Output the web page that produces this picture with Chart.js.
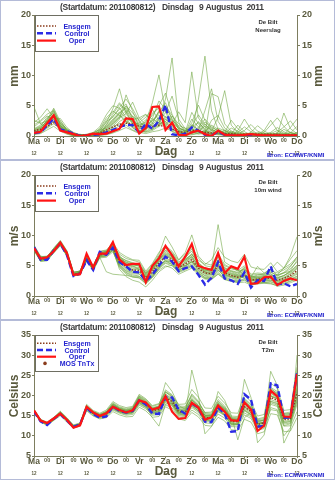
<!DOCTYPE html>
<html lang="nl">
<head>
<meta charset="utf-8">
<title>EPS pluim De Bilt</title>
<script src="https://cdn.jsdelivr.net/npm/chart.js@4/dist/chart.umd.min.js"></script>
<style>
  html, body { margin: 0; padding: 0; background: #fff; }
  canvas { display: block; }
</style>
</head>
<body>
<canvas id="neerslag" width="335" height="160"></canvas>
<canvas id="wind" width="335" height="160"></canvas>
<canvas id="temp" width="335" height="160"></canvas>
<script>
// Tijdas: uren na de start (2011080812), elke 6 uur
const uren = [0, 6, 12, 18, 24, 30, 36, 42, 48, 54, 60, 66, 72, 78, 84, 90, 96, 102, 108, 114, 120,
  126, 132, 138, 144, 150, 156, 162, 168, 174, 180, 186, 192, 198, 204, 210, 216, 222, 228, 234, 240];
const dagNamen = ['Ma', 'Di', 'Wo', 'Do', 'Vr', 'Za', 'Zo', 'Ma', 'Di', 'Wo', 'Do'];

// Neerslag (mm)
const neerslagOper = [0.5, 0.7, 2.1, 3.4, 0.9, 0.6, 0.3, 0.0, 0.1, 0.4, 0.3, 0.4, 0.8, 1.2, 2.9, 2.8, 0.4, 1.3, 4.8, 4.9, 1.0,
  2.2, 0.2, 0.1, 0.6, 0.9, 0.3, 0.0, 0.9, 0.2, 0.1, 0.1, 0.2, 0.3, 0.2, 0.1, 0.1, 0.1, 0.1, 0.1, 0.1];
const neerslagControl = [0.5, 0.6, 1.8, 2.8, 1.1, 0.8, 0.4, 0.0, 0.1, 0.2, 0.3, 0.6, 1.0, 1.5, 1.8, 1.8, 0.6, 2.0, 1.2, 2.5, 5.1,
  0.3, 0.1, 0.4, 1.4, 0.9, 0.2, 0.1, 0.7, 0.2, 0.1, 0.0, 0.1, 0.0, 0.0, 0.0, 0.0, 0.0, 0.0, 0.0, 0.0];
const neerslagGem = [0.9, 1.1, 1.6, 2.2, 1.2, 0.7, 0.3, 0.1, 0.2, 0.3, 0.5, 1.0, 1.5, 1.9, 2.1, 2.0, 1.6, 1.5, 1.6, 1.8, 1.5,
  1.2, 0.7, 0.6, 0.9, 0.8, 0.6, 0.5, 0.7, 0.4, 0.4, 0.3, 0.3, 0.3, 0.3, 0.3, 0.3, 0.3, 0.2, 0.2, 0.2];
const neerslagLeden = [
  [1.2, 1.8, 2.9, 3.9, 1.5, 0.8, 0.3, 0.1, 0.2, 0.4, 0.6, 1.4, 2.5, 3.8, 4.9, 3.2, 2.0, 1.8, 2.6, 3.5, 2.1, 1.2, 0.6, 0.4, 1.8, 1.1, 0.5, 0.3, 0.9, 0.5, 0.2, 0.1, 0.3, 0.2, 0.1, 0.2, 0.1, 0.0, 0.2, 0.1, 0.1],
  [0.6, 1.1, 2.2, 4.4, 2.0, 1.0, 0.2, 0.0, 0.1, 0.2, 0.9, 2.2, 4.5, 7.8, 3.6, 2.4, 1.3, 1.1, 2.0, 4.2, 3.0, 1.8, 0.9, 0.2, 0.6, 2.4, 1.0, 0.2, 0.4, 0.1, 0.0, 0.2, 0.0, 0.1, 0.0, 0.3, 0.2, 0.1, 0.0, 0.0, 0.1],
  [4.8, 2.0, 1.4, 2.5, 1.0, 0.6, 0.1, 0.0, 0.0, 0.3, 0.5, 0.9, 1.6, 2.8, 6.8, 4.1, 1.5, 2.4, 5.5, 10.1, 4.0, 1.6, 0.5, 0.3, 1.2, 0.6, 0.8, 0.2, 0.5, 0.3, 0.1, 0.0, 0.2, 0.4, 0.1, 0.0, 0.2, 0.1, 0.3, 0.1, 0.0],
  [0.3, 0.9, 1.9, 3.1, 2.6, 0.9, 0.4, 0.2, 0.1, 0.1, 0.3, 0.5, 1.0, 1.7, 2.5, 1.3, 0.8, 1.5, 1.0, 2.8, 6.1, 12.9, 2.3, 0.6, 2.8, 1.5, 0.7, 0.4, 0.3, 1.0, 0.4, 0.2, 0.1, 0.0, 0.1, 0.3, 0.5, 0.2, 0.1, 0.0, 0.2],
  [0.9, 0.5, 1.3, 2.0, 1.2, 0.4, 0.0, 0.0, 0.2, 0.1, 0.2, 1.8, 3.3, 4.4, 5.3, 2.7, 3.0, 3.6, 2.1, 1.5, 2.8, 1.9, 4.0, 2.2, 10.6, 3.0, 1.5, 0.8, 3.1, 7.5, 1.8, 0.6, 0.3, 0.2, 0.1, 0.2, 0.6, 1.4, 0.7, 0.3, 0.2],
  [0.4, 0.7, 2.6, 4.1, 1.8, 0.5, 0.1, 0.3, 0.0, 0.2, 0.4, 1.1, 2.0, 3.1, 4.2, 2.1, 1.0, 0.8, 1.4, 2.3, 5.0, 3.4, 1.2, 0.9, 0.4, 6.0, 13.2, 4.2, 1.1, 0.6, 2.6, 1.2, 0.4, 0.2, 0.6, 0.3, 0.1, 0.2, 0.1, 0.3, 0.1],
  [1.5, 2.4, 3.3, 2.7, 1.4, 0.7, 0.2, 0.1, 0.0, 0.0, 0.1, 0.3, 0.6, 1.2, 2.2, 3.3, 2.4, 1.2, 3.8, 4.6, 1.9, 0.7, 0.3, 0.1, 0.2, 0.4, 0.3, 7.0, 6.5, 2.0, 0.8, 0.3, 0.2, 0.5, 0.2, 0.1, 0.3, 0.2, 3.8, 1.2, 0.4],
  [0.8, 1.3, 2.0, 3.5, 2.2, 1.2, 0.6, 0.2, 0.1, 0.5, 1.1, 2.6, 3.9, 5.5, 4.0, 1.8, 0.9, 0.6, 0.9, 1.6, 3.2, 2.6, 1.7, 1.3, 0.8, 0.5, 2.0, 0.9, 0.3, 0.2, 0.1, 0.9, 2.8, 1.1, 0.3, 0.1, 0.0, 0.6, 1.5, 2.5, 1.0],
  [0.2, 0.4, 1.0, 1.6, 0.8, 0.3, 0.0, 0.0, 0.0, 0.1, 0.2, 0.6, 1.4, 2.1, 1.8, 1.0, 0.6, 0.4, 0.7, 0.9, 1.3, 0.8, 0.4, 0.2, 0.4, 0.8, 0.6, 0.3, 0.2, 0.1, 0.0, 0.1, 0.0, 0.2, 0.1, 0.0, 0.1, 0.0, 0.1, 0.2, 0.1],
  [2.2, 3.1, 4.5, 3.0, 1.7, 0.9, 0.3, 0.1, 0.3, 0.6, 1.5, 3.5, 5.0, 4.6, 3.1, 2.2, 1.6, 2.7, 1.6, 2.0, 2.4, 1.5, 1.0, 0.5, 1.6, 3.5, 1.9, 1.1, 0.6, 0.4, 0.3, 1.8, 0.7, 0.2, 0.1, 0.0, 0.2, 0.3, 0.1, 0.0, 0.0],
  [0.5, 0.8, 1.7, 2.8, 1.1, 0.5, 0.1, 0.0, 0.1, 0.0, 0.1, 0.2, 0.5, 0.9, 1.4, 0.9, 0.4, 0.9, 2.9, 5.8, 4.4, 2.1, 0.8, 0.3, 0.5, 1.0, 4.2, 7.8, 2.4, 0.8, 0.4, 0.2, 0.1, 0.0, 0.3, 0.9, 2.6, 0.9, 0.2, 1.4, 2.8],
  [1.0, 1.5, 2.4, 3.2, 1.3, 0.6, 0.2, 0.1, 0.1, 0.3, 0.7, 1.6, 2.8, 4.0, 2.9, 1.5, 1.2, 2.0, 1.2, 3.0, 2.4, 1.0, 0.7, 0.6, 0.3, 0.5, 0.9, 0.6, 0.4, 0.3, 0.6, 0.3, 0.9, 1.9, 0.8, 0.4, 0.2, 0.5, 0.3, 0.6, 0.3],
  [0.7, 1.2, 2.7, 4.6, 2.4, 1.1, 0.4, 0.1, 0.0, 0.2, 0.6, 1.9, 3.6, 5.2, 4.4, 2.6, 1.7, 1.3, 2.2, 3.9, 5.5, 2.6, 1.4, 0.8, 1.5, 2.2, 1.2, 0.6, 1.3, 0.9, 0.5, 0.2, 0.1, 0.3, 0.4, 0.2, 0.1, 0.0, 0.1, 0.2, 0.1],
  [0.3, 0.6, 1.5, 2.4, 1.6, 0.7, 0.2, 0.0, 0.1, 0.4, 1.2, 3.0, 4.1, 3.4, 2.3, 1.6, 2.2, 3.1, 4.4, 2.5, 1.7, 3.3, 2.0, 1.0, 0.7, 1.4, 2.8, 1.6, 0.8, 0.5, 1.3, 0.8, 0.3, 0.1, 0.0, 0.2, 0.4, 0.9, 0.5, 0.2, 0.1],
  [1.8, 2.6, 3.6, 4.2, 1.9, 0.8, 0.3, 0.1, 0.2, 0.2, 0.4, 0.8, 1.9, 3.0, 3.7, 5.6, 3.0, 1.9, 1.3, 2.2, 3.9, 6.6, 2.8, 1.2, 0.8, 0.3, 0.6, 1.8, 1.1, 0.4, 0.2, 0.6, 1.5, 0.7, 0.3, 0.1, 0.3, 0.2, 1.1, 0.6, 0.3],
  [0.6, 1.0, 2.0, 2.9, 2.9, 1.4, 0.5, 0.2, 0.0, 0.1, 0.3, 0.7, 1.2, 2.4, 3.0, 2.4, 1.9, 2.2, 3.4, 5.0, 7.1, 3.6, 1.5, 0.7, 3.9, 2.0, 0.9, 0.5, 0.4, 0.2, 0.1, 0.3, 0.2, 0.6, 1.7, 0.8, 0.3, 0.1, 0.2, 0.3, 0.5],
  [1.1, 1.6, 3.1, 3.7, 1.7, 0.9, 0.2, 0.0, 0.1, 0.3, 0.8, 2.4, 3.1, 4.7, 6.1, 4.5, 2.5, 1.4, 1.8, 3.2, 2.7, 1.9, 0.9, 0.4, 1.9, 0.9, 0.4, 2.6, 3.4, 1.3, 0.6, 0.3, 0.2, 0.1, 0.3, 0.5, 0.2, 0.1, 0.4, 0.2, 0.6],
  [0.4, 0.9, 2.3, 3.3, 1.4, 0.6, 0.1, 0.1, 0.2, 0.5, 1.0, 1.3, 2.3, 3.5, 2.6, 1.4, 0.8, 0.7, 1.1, 1.8, 4.8, 2.9, 1.1, 0.6, 2.2, 5.1, 2.6, 1.2, 0.5, 0.3, 0.2, 0.1, 0.4, 0.3, 0.2, 0.6, 1.8, 3.0, 1.6, 0.5, 0.2],
  [2.6, 2.1, 2.5, 3.0, 1.6, 0.7, 0.3, 0.2, 0.1, 0.2, 0.5, 1.2, 2.1, 3.2, 5.0, 3.8, 2.6, 3.5, 2.8, 2.2, 1.6, 1.1, 0.6, 0.3, 0.6, 1.1, 2.3, 1.4, 0.9, 0.6, 0.3, 0.2, 0.1, 0.2, 0.1, 0.2, 0.3, 0.1, 0.2, 0.5, 1.6],
  [0.9, 1.4, 2.5, 3.6, 2.1, 1.0, 0.4, 0.2, 0.1, 0.3, 0.6, 1.5, 2.6, 3.8, 4.6, 3.1, 1.4, 1.7, 2.5, 4.0, 3.2, 2.2, 1.3, 0.9, 1.1, 0.8, 1.6, 1.0, 0.6, 0.4, 0.8, 0.5, 0.2, 0.4, 0.2, 0.1, 0.2, 0.4, 0.3, 0.1, 0.2]
];

// Wind op 10 m (m/s)
const windOper = [7.9, 6.2, 6.4, 7.4, 8.8, 7.1, 3.5, 3.6, 7.0, 4.7, 7.0, 7.0, 8.9, 6.0, 5.1, 5.3, 5.3, 2.3, 5.0, 6.2, 8.3,
  6.7, 4.9, 6.5, 8.6, 5.0, 4.6, 4.3, 7.1, 3.8, 4.9, 4.5, 6.5, 2.0, 2.1, 3.1, 3.2, 1.8, 2.5, 2.9, 2.6];
const windControl = [8.1, 6.0, 6.0, 7.5, 8.7, 6.8, 3.3, 3.7, 5.9, 4.3, 7.3, 6.8, 8.0, 5.6, 4.9, 4.0, 3.9, 2.5, 3.5, 5.0, 6.5,
  5.7, 4.1, 4.6, 4.9, 3.5, 1.9, 3.0, 5.6, 2.9, 2.6, 2.0, 3.9, 1.4, 2.6, 2.5, 4.9, 1.9, 2.1, 1.6, 2.0];
const windGem = [7.9, 6.1, 6.2, 7.5, 8.7, 7.0, 3.6, 3.8, 6.2, 4.6, 6.8, 7.0, 8.0, 5.7, 4.8, 4.3, 4.2, 3.0, 4.0, 5.5, 6.5,
  6.0, 4.7, 5.3, 6.0, 4.6, 3.8, 3.7, 5.0, 3.8, 3.4, 3.1, 3.5, 2.6, 2.8, 2.8, 3.0, 2.6, 2.9, 3.4, 4.2];
const windLeden = [
  [8.3, 6.4, 6.5, 7.9, 9.1, 7.4, 3.9, 4.1, 6.6, 5.0, 7.3, 7.5, 8.6, 6.5, 5.8, 5.4, 5.3, 3.6, 4.8, 6.6, 8.0, 7.2, 5.6, 6.4, 7.4, 5.5, 4.6, 4.5, 6.4, 4.7, 4.2, 3.9, 4.6, 3.4, 3.6, 3.5, 4.0, 3.3, 3.8, 4.5, 5.6],
  [7.6, 5.8, 5.9, 7.1, 8.3, 6.6, 3.3, 3.5, 5.8, 4.2, 6.3, 6.4, 7.3, 4.9, 3.8, 3.3, 3.2, 2.4, 3.1, 4.3, 5.0, 4.6, 3.6, 4.1, 4.6, 3.5, 2.8, 2.7, 3.6, 2.7, 2.4, 2.2, 2.3, 1.8, 2.0, 2.1, 2.0, 1.8, 2.0, 2.4, 2.9],
  [8.0, 6.3, 6.0, 7.6, 8.9, 7.3, 3.8, 3.6, 6.4, 4.4, 7.0, 7.4, 8.4, 6.9, 6.2, 5.9, 5.6, 3.9, 5.2, 6.9, 9.9, 8.1, 6.0, 7.2, 10.1, 6.6, 5.4, 5.1, 7.0, 5.2, 4.6, 4.3, 3.5, 2.9, 2.4, 2.2, 2.1, 1.6, 1.8, 2.2, 2.6],
  [7.8, 6.0, 6.4, 7.3, 8.5, 6.8, 3.5, 4.0, 6.0, 4.8, 6.5, 6.6, 7.6, 4.4, 3.2, 2.6, 2.3, 1.5, 2.6, 4.0, 4.8, 5.1, 4.0, 4.5, 5.0, 3.8, 3.1, 3.0, 4.2, 3.3, 3.0, 2.6, 3.4, 3.1, 4.9, 3.8, 4.4, 5.6, 4.6, 6.1, 7.5],
  [8.1, 6.2, 6.3, 7.8, 8.8, 7.1, 3.7, 3.9, 6.3, 4.7, 6.9, 7.1, 8.2, 6.0, 5.1, 4.6, 4.5, 3.2, 4.3, 5.9, 7.2, 6.6, 5.2, 6.0, 7.0, 5.3, 4.4, 4.6, 11.8, 5.6, 4.9, 4.1, 4.4, 3.2, 3.3, 3.4, 3.6, 3.0, 3.4, 4.0, 5.0],
  [7.7, 6.0, 6.1, 7.4, 8.6, 6.9, 3.6, 3.7, 6.1, 4.5, 6.7, 6.9, 7.9, 5.4, 4.4, 4.0, 3.9, 2.8, 3.6, 5.0, 5.9, 5.5, 4.3, 4.8, 5.3, 4.0, 3.4, 3.3, 4.6, 3.5, 3.1, 2.8, 3.2, 2.4, 2.6, 2.7, 2.8, 2.4, 2.7, 3.1, 3.8],
  [8.2, 6.5, 6.6, 7.7, 9.0, 7.2, 3.8, 4.2, 6.5, 4.9, 7.1, 7.3, 8.3, 6.2, 5.4, 5.1, 5.0, 3.5, 4.6, 6.3, 7.6, 6.9, 5.4, 6.1, 6.8, 5.9, 5.2, 6.0, 8.0, 6.4, 5.8, 5.5, 6.9, 4.8, 4.5, 4.4, 5.5, 4.0, 4.6, 5.3, 6.4],
  [7.9, 5.9, 6.2, 7.5, 8.7, 7.0, 3.6, 3.9, 6.2, 4.6, 6.4, 4.0, 3.6, 3.5, 3.4, 3.2, 3.0, 2.1, 3.3, 4.8, 5.7, 5.6, 4.3, 5.0, 5.6, 4.2, 3.3, 3.1, 4.3, 3.2, 2.7, 2.5, 2.7, 1.9, 2.1, 2.2, 2.3, 1.9, 2.1, 2.5, 3.0],
  [7.5, 5.7, 5.8, 7.2, 8.4, 6.7, 3.4, 3.5, 5.9, 4.3, 6.4, 6.6, 7.7, 5.1, 4.1, 3.7, 3.6, 2.6, 3.4, 4.7, 5.5, 5.3, 4.2, 4.9, 5.7, 4.3, 3.6, 3.5, 4.8, 3.6, 3.2, 2.9, 3.3, 2.5, 2.8, 2.9, 3.1, 2.6, 3.0, 3.6, 4.5],
  [8.4, 6.6, 6.4, 7.9, 9.2, 7.5, 4.0, 4.0, 6.7, 5.0, 7.4, 7.6, 8.8, 7.2, 6.5, 6.0, 5.9, 4.1, 5.4, 7.2, 8.3, 7.4, 5.9, 6.9, 8.0, 6.3, 5.0, 4.8, 6.5, 5.0, 4.5, 4.2, 5.0, 3.6, 3.8, 3.7, 4.5, 3.4, 3.9, 4.8, 6.5],
  [7.9, 6.2, 6.0, 7.6, 8.6, 6.9, 3.7, 3.8, 6.2, 4.6, 6.8, 7.0, 8.1, 5.8, 4.9, 4.4, 4.4, 3.1, 4.1, 5.6, 6.6, 6.2, 4.8, 5.4, 6.2, 4.7, 3.9, 3.8, 5.3, 3.9, 3.5, 3.2, 3.7, 2.7, 2.9, 2.9, 3.2, 3.5, 4.6, 6.6, 9.8],
  [8.0, 6.1, 6.3, 7.4, 8.8, 7.1, 3.5, 3.8, 6.1, 4.6, 6.9, 7.1, 8.0, 5.5, 4.6, 4.2, 4.0, 2.9, 3.8, 5.3, 6.3, 5.8, 4.6, 5.1, 5.8, 4.5, 3.7, 3.6, 4.9, 3.7, 3.3, 3.0, 3.4, 2.6, 2.7, 2.8, 2.9, 2.5, 2.8, 3.3, 4.0],
  [8.1, 6.3, 6.4, 7.7, 8.9, 7.2, 3.7, 4.0, 6.4, 4.8, 7.1, 7.3, 8.2, 6.3, 5.6, 5.0, 4.4, 3.3, 4.6, 6.2, 7.0, 6.5, 4.9, 5.0, 5.6, 4.9, 4.3, 4.1, 5.9, 4.4, 4.0, 3.6, 4.2, 3.1, 3.0, 3.3, 3.9, 3.5, 3.8, 4.1, 5.1],
  [7.7, 5.9, 6.0, 7.3, 8.5, 6.8, 3.4, 3.6, 6.0, 4.4, 6.6, 6.8, 7.6, 5.0, 3.9, 3.5, 3.3, 2.2, 3.2, 4.6, 6.0, 5.8, 4.4, 5.6, 6.6, 5.0, 4.0, 3.6, 4.5, 3.4, 3.2, 3.3, 3.0, 2.2, 2.4, 2.6, 2.6, 2.2, 2.4, 2.8, 3.3],
  [8.0, 6.2, 6.1, 7.6, 8.8, 7.1, 3.6, 3.9, 6.3, 4.7, 6.9, 7.1, 8.5, 6.7, 5.3, 4.9, 5.1, 3.8, 4.5, 5.9, 7.5, 6.4, 5.0, 6.2, 7.8, 5.2, 4.1, 4.4, 6.0, 4.3, 3.8, 3.5, 4.8, 2.9, 3.2, 3.0, 3.4, 3.1, 3.3, 4.2, 5.9],
  [7.8, 6.0, 6.3, 7.4, 8.6, 6.9, 3.5, 3.7, 6.1, 4.5, 6.7, 6.9, 7.8, 5.2, 4.2, 3.9, 3.7, 2.5, 3.6, 5.1, 5.8, 5.2, 4.1, 4.6, 5.1, 3.9, 3.0, 2.9, 3.9, 3.0, 2.6, 2.4, 2.9, 2.1, 2.4, 2.5, 2.6, 2.3, 2.6, 3.0, 3.6],
  [8.2, 6.4, 6.5, 7.8, 9.0, 7.3, 3.9, 4.1, 6.5, 4.9, 7.2, 7.4, 8.4, 6.4, 5.9, 5.5, 5.2, 3.7, 4.9, 6.6, 7.9, 7.0, 5.3, 5.8, 6.9, 5.4, 4.5, 4.2, 5.8, 4.6, 4.1, 3.8, 4.4, 3.3, 3.1, 3.2, 3.7, 2.9, 3.4, 3.9, 4.8],
  [7.6, 5.8, 6.1, 7.2, 8.4, 6.7, 3.3, 3.6, 5.9, 4.4, 6.5, 6.7, 7.5, 4.7, 3.6, 3.1, 3.0, 2.0, 3.0, 4.5, 5.4, 5.0, 3.9, 4.3, 4.9, 3.7, 2.9, 2.8, 3.7, 2.8, 2.5, 2.3, 2.6, 1.9, 2.1, 2.3, 2.4, 2.0, 2.3, 2.7, 3.2],
  [8.0, 6.1, 6.2, 7.5, 8.7, 7.0, 3.6, 3.8, 6.3, 4.6, 6.8, 7.0, 8.1, 6.0, 5.2, 4.8, 4.7, 3.4, 4.3, 5.8, 6.9, 6.3, 5.0, 5.6, 6.4, 4.9, 4.0, 3.9, 5.2, 4.0, 3.6, 3.3, 3.8, 2.8, 3.0, 3.0, 3.3, 2.8, 3.1, 3.7, 4.6],
  [7.9, 6.2, 6.3, 7.6, 8.7, 7.0, 3.7, 3.8, 6.2, 4.6, 6.8, 7.2, 8.2, 6.1, 5.6, 5.3, 4.9, 3.1, 4.4, 6.1, 6.8, 6.2, 5.1, 5.9, 6.5, 5.0, 4.2, 4.0, 5.5, 4.1, 3.7, 3.4, 4.0, 3.0, 3.5, 3.6, 4.2, 3.8, 4.3, 5.0, 6.2]
];

// Temperatuur op 2 m (Celsius)
const tempOper = [16.3, 13.8, 13.2, 14.3, 15.5, 14.0, 12.0, 12.6, 17.2, 15.8, 14.9, 15.6, 17.2, 16.4, 15.8, 16.3, 18.8, 18.3, 16.5, 17.0, 19.8,
  16.0, 14.2, 14.4, 18.2, 17.0, 14.0, 14.6, 17.5, 16.0, 13.9, 13.7, 18.3, 16.5, 11.2, 12.5, 21.2, 19.8, 14.8, 14.7, 25.3];
const tempControl = [16.0, 13.6, 12.7, 14.2, 15.4, 13.8, 12.2, 12.8, 17.0, 15.4, 14.5, 14.8, 17.3, 16.2, 15.8, 16.2, 18.8, 17.8, 15.5, 15.4, 19.6,
  19.5, 16.5, 15.5, 18.0, 17.0, 13.5, 13.4, 17.0, 15.5, 11.0, 11.2, 20.3, 19.0, 12.3, 12.4, 23.0, 22.5, 14.5, 14.6, 25.8];
const tempGem = [16.2, 13.8, 13.0, 14.2, 15.6, 14.0, 12.3, 12.8, 17.0, 15.6, 14.9, 15.5, 17.3, 16.4, 15.9, 16.2, 18.8, 17.8, 16.2, 16.5, 19.5,
  18.5, 16.0, 15.8, 18.2, 16.8, 14.5, 14.5, 17.2, 15.9, 13.6, 13.5, 17.2, 16.0, 12.8, 13.2, 19.5, 18.8, 14.0, 14.2, 20.5];
const tempLeden = [
  [16.5, 14.0, 13.3, 14.5, 16.0, 14.4, 12.6, 13.1, 17.6, 16.1, 15.4, 16.1, 18.2, 17.2, 16.7, 17.1, 20.0, 19.0, 17.3, 17.8, 21.4, 20.2, 17.4, 17.3, 20.1, 18.4, 15.8, 15.9, 19.0, 17.4, 14.9, 14.8, 19.3, 17.8, 14.2, 14.6, 22.0, 21.0, 15.6, 15.9, 23.5],
  [15.9, 13.5, 12.7, 13.9, 15.2, 13.6, 12.0, 12.5, 16.4, 15.1, 14.4, 14.8, 16.4, 15.6, 15.1, 15.3, 17.6, 16.7, 15.1, 15.3, 17.7, 16.9, 14.7, 14.3, 16.4, 15.3, 13.2, 13.1, 15.4, 14.4, 12.3, 12.2, 15.2, 14.3, 11.4, 11.8, 17.0, 16.5, 12.4, 12.5, 17.8],
  [16.3, 13.9, 13.1, 14.3, 15.8, 14.2, 12.4, 12.9, 17.3, 15.8, 15.1, 15.8, 17.9, 16.9, 16.4, 16.8, 19.7, 18.6, 16.9, 17.3, 23.2, 21.0, 17.5, 16.6, 19.0, 17.5, 15.0, 15.2, 17.8, 16.4, 14.0, 13.8, 18.0, 16.8, 13.1, 13.3, 20.5, 19.4, 14.6, 14.7, 21.8],
  [16.1, 13.7, 12.9, 14.1, 15.5, 13.9, 12.2, 12.7, 16.8, 15.5, 14.8, 15.2, 16.9, 16.0, 15.6, 15.8, 18.2, 17.2, 15.7, 15.9, 18.8, 17.9, 15.4, 15.1, 26.3, 20.0, 10.5, 12.3, 16.0, 15.0, 12.8, 12.9, 16.2, 15.1, 12.0, 12.6, 18.5, 17.9, 13.2, 13.5, 19.3],
  [16.4, 13.9, 13.2, 14.4, 15.7, 14.1, 12.3, 12.9, 17.1, 15.7, 15.0, 15.6, 17.5, 16.6, 16.1, 16.4, 19.1, 18.1, 16.4, 16.8, 19.9, 18.8, 16.3, 16.2, 18.7, 17.2, 14.8, 14.9, 21.0, 18.8, 15.1, 9.0, 14.5, 15.8, 13.2, 13.4, 19.8, 19.2, 14.3, 14.4, 21.0],
  [16.0, 13.6, 12.8, 14.0, 15.4, 13.8, 12.1, 12.6, 16.6, 15.3, 14.6, 15.1, 16.8, 15.9, 15.5, 15.7, 18.1, 17.1, 15.5, 15.7, 18.6, 17.6, 15.2, 15.0, 17.5, 16.1, 13.8, 13.8, 16.5, 15.3, 13.0, 12.9, 24.0, 19.5, 8.3, 10.2, 17.8, 17.3, 12.5, 13.0, 18.5],
  [16.3, 13.7, 13.1, 14.3, 15.5, 14.1, 12.2, 12.9, 16.9, 15.7, 14.8, 15.6, 17.2, 16.5, 15.8, 16.3, 18.7, 17.9, 16.1, 16.6, 19.4, 18.6, 15.9, 15.9, 18.1, 16.9, 14.4, 14.6, 17.1, 16.0, 13.5, 13.6, 17.1, 16.1, 12.7, 13.3, 26.0, 22.5, 8.2, 11.5, 30.0],
  [16.6, 14.1, 13.4, 14.6, 16.1, 14.5, 12.7, 13.2, 17.8, 16.3, 15.6, 16.4, 18.5, 17.5, 17.0, 17.3, 20.3, 19.2, 17.5, 18.0, 21.0, 20.0, 17.8, 17.9, 21.5, 19.6, 16.9, 16.8, 19.8, 18.1, 15.7, 15.6, 20.1, 18.5, 14.9, 15.3, 23.0, 21.9, 16.3, 16.5, 27.0],
  [15.8, 13.4, 12.6, 13.8, 15.0, 13.4, 11.9, 12.4, 16.2, 14.9, 14.2, 14.5, 16.0, 15.2, 14.7, 14.8, 17.1, 16.2, 14.6, 14.8, 17.2, 16.4, 14.2, 13.8, 15.8, 14.7, 12.6, 12.4, 14.6, 13.7, 11.5, 11.3, 14.1, 13.4, 10.5, 11.0, 15.5, 15.2, 11.0, 11.2, 14.5],
  [16.2, 13.9, 13.0, 14.3, 15.7, 14.2, 12.4, 12.8, 17.2, 15.9, 15.2, 15.9, 17.8, 16.8, 16.2, 16.5, 19.4, 18.3, 16.7, 17.0, 20.4, 19.2, 16.6, 16.5, 19.3, 17.7, 15.2, 15.1, 18.1, 16.8, 14.3, 14.1, 18.7, 17.2, 13.6, 13.9, 21.0, 20.1, 15.0, 15.0, 24.5],
  [16.1, 13.6, 12.9, 14.0, 15.4, 13.9, 12.2, 12.7, 16.7, 15.4, 14.6, 15.0, 16.6, 15.8, 15.3, 15.6, 17.9, 17.0, 15.4, 15.6, 18.3, 17.4, 15.0, 14.7, 17.0, 15.8, 13.6, 13.6, 16.2, 15.1, 12.6, 12.7, 15.7, 14.7, 11.9, 12.3, 16.5, 16.2, 10.0, 12.0, 16.0],
  [16.4, 14.0, 13.2, 14.4, 15.9, 14.3, 12.5, 12.9, 17.4, 16.0, 15.3, 16.0, 18.0, 17.0, 16.5, 16.9, 19.8, 18.8, 17.0, 17.4, 20.8, 19.8, 17.0, 17.0, 19.8, 18.2, 15.7, 15.6, 18.6, 17.1, 14.6, 14.5, 19.0, 17.6, 14.0, 14.3, 21.6, 20.6, 15.5, 15.4, 25.5],
  [16.3, 13.9, 13.1, 14.3, 15.7, 14.1, 12.4, 12.9, 17.2, 15.8, 15.1, 15.7, 17.6, 16.7, 16.2, 16.6, 19.3, 18.2, 16.6, 17.0, 20.2, 19.1, 16.5, 16.3, 19.0, 17.4, 15.1, 15.0, 17.9, 16.5, 14.2, 14.0, 18.1, 16.7, 13.4, 13.8, 20.6, 19.7, 14.6, 14.8, 22.6],
  [16.1, 13.7, 12.9, 14.1, 15.5, 13.9, 12.2, 12.7, 16.9, 15.5, 14.7, 15.3, 17.0, 16.1, 15.6, 15.9, 18.4, 17.5, 15.9, 16.1, 19.0, 18.1, 15.6, 15.4, 17.6, 16.3, 14.0, 14.0, 16.6, 15.4, 13.1, 13.0, 16.5, 15.4, 12.3, 12.7, 18.6, 18.1, 13.4, 13.6, 19.6],
  [16.2, 13.8, 13.0, 14.2, 15.6, 14.0, 12.3, 12.8, 17.1, 15.7, 15.0, 15.6, 17.4, 16.3, 15.7, 16.0, 18.6, 17.6, 14.5, 12.4, 17.9, 18.0, 15.7, 15.6, 18.4, 17.0, 14.7, 14.7, 17.6, 16.2, 13.9, 13.8, 17.7, 16.4, 13.0, 13.4, 20.0, 19.3, 14.3, 14.5, 22.0],
  [16.4, 14.0, 13.2, 14.4, 15.8, 14.2, 12.5, 13.0, 17.3, 15.9, 15.2, 15.9, 17.7, 16.8, 16.3, 16.7, 19.5, 18.5, 16.8, 17.2, 20.9, 19.6, 16.9, 16.8, 20.4, 18.6, 15.5, 15.3, 18.4, 16.9, 14.4, 14.3, 18.6, 17.1, 13.8, 14.0, 21.3, 20.3, 15.1, 15.3, 23.8],
  [16.0, 13.6, 12.8, 14.0, 15.3, 13.8, 12.1, 12.6, 16.7, 15.4, 14.7, 15.2, 16.9, 16.0, 15.5, 15.8, 18.3, 17.4, 15.8, 16.0, 18.9, 17.8, 15.5, 15.2, 17.3, 16.2, 13.9, 13.9, 16.4, 15.2, 12.9, 12.8, 16.4, 15.2, 12.0, 12.4, 18.2, 17.6, 12.9, 13.2, 18.8],
  [16.3, 13.8, 13.1, 14.3, 15.6, 14.1, 12.3, 12.9, 17.0, 15.7, 15.0, 15.5, 17.4, 16.5, 15.9, 16.4, 19.0, 18.0, 16.4, 16.8, 19.8, 18.9, 16.4, 16.2, 18.9, 17.5, 15.0, 14.9, 18.0, 16.6, 14.1, 14.1, 18.4, 16.9, 13.6, 13.9, 21.8, 20.4, 15.3, 15.6, 26.0],
  [16.1, 13.7, 13.0, 14.1, 15.5, 13.9, 12.2, 12.7, 16.8, 15.5, 14.8, 15.4, 17.1, 16.2, 15.8, 16.1, 18.6, 17.7, 16.0, 16.3, 19.2, 18.2, 15.8, 15.6, 17.8, 16.5, 14.3, 14.3, 16.9, 15.7, 13.3, 13.2, 16.8, 15.7, 12.5, 12.9, 19.0, 18.4, 13.6, 13.9, 20.0],
  [16.2, 13.9, 13.0, 14.2, 15.6, 14.0, 12.4, 12.8, 17.1, 15.6, 14.9, 15.6, 17.3, 16.4, 16.0, 16.3, 18.9, 17.9, 16.3, 16.6, 19.6, 18.6, 16.1, 15.9, 18.3, 16.9, 14.6, 14.6, 17.3, 16.0, 13.7, 13.6, 17.4, 16.2, 12.9, 13.3, 19.9, 19.1, 14.2, 14.4, 21.2]
];

const FONT = '"Liberation Sans", Arial, Helvetica, sans-serif';
const AS_KLEUR = '#7d7d5f';
const TEKST_KLEUR = '#5a5a3e';
const GEM_KLEUR = '#8a3c1c';

// Hulpfuncties
function punten(reeks) {
  return uren.map((u, i) => ({ x: u, y: reeks[i] }));
}

function maakDatasets(leden, gem, control, oper) {
  // eerste dataset wordt bovenaan getekend
  const sets = [
    { label: 'Oper', data: punten(oper), borderColor: '#ff1414', borderWidth: 2.2 },
    { label: 'Control', data: punten(control), borderColor: '#2b2be6', borderWidth: 2.4, borderDash: [6, 3] },
    { label: 'Ensgem', data: punten(gem), borderColor: GEM_KLEUR, borderWidth: 1.4, borderDash: [1.5, 1.5] }
  ];
  leden.forEach((lid, i) => {
    sets.push({ label: 'Lid ' + (i + 1), data: punten(lid), borderColor: 'rgba(108,164,62,0.72)', borderWidth: 0.8 });
  });
  return sets;
}

function gedraaid(ctx, tekst, x, y) {
  ctx.save();
  ctx.translate(x, y);
  ctx.rotate(-Math.PI / 2);
  ctx.fillText(tekst, 0, 0);
  ctx.restore();
}

// Alles rond de grafiek: titel, legenda, labels
const paneelPlugin = {
  id: 'paneel',
  afterDraw(chart, args, opt) {
    const ctx = chart.ctx;
    const xas = chart.scales.x;
    ctx.save();

    ctx.strokeStyle = '#b4bbd8';
    ctx.lineWidth = 1;
    ctx.strokeRect(0.5, 0.5, chart.width - 1, chart.height - 1);

    // titel
    ctx.fillStyle = '#3c3c3c';
    ctx.font = `bold 8.5px ${FONT}`;
    ctx.letterSpacing = '-0.3px';
    ctx.textBaseline = 'middle';
    ctx.textAlign = 'left';
    ctx.fillText('(Startdatum: 2011080812)', 60, 7.5);
    ctx.fillText('Dinsdag', 162, 7.5);
    ctx.fillText('9 Augustus  2011', 199, 7.5);
    ctx.letterSpacing = '0px';

    // legenda
    ctx.fillStyle = '#fff';
    ctx.fillRect(35.5, 15.5, 63, 36);
    ctx.strokeStyle = '#6e6e62';
    ctx.strokeRect(35.5, 15.5, 63, 36);
    const items = opt.legenda;
    const stap = items.length === 4 ? 6.7 : 7.3;
    const y0 = items.length === 4 ? 23.3 : 26;
    items.forEach((naam, i) => {
      const y = y0 + i * stap;
      const ds = chart.data.datasets.find(d => d.label === naam);
      if (ds) {
        ctx.strokeStyle = ds.borderColor;
        ctx.lineWidth = ds.borderWidth;
        ctx.setLineDash(ds.borderDash || []);
        ctx.beginPath();
        ctx.moveTo(37, y);
        ctx.lineTo(56, y);
        ctx.stroke();
        ctx.setLineDash([]);
      } else {
        ctx.fillStyle = GEM_KLEUR;
        ctx.beginPath();
        ctx.arc(45, y, 1.8, 0, Math.PI * 2);
        ctx.fill();
      }
      ctx.fillStyle = '#2424d0';
      ctx.font = `bold 7px ${FONT}`;
      ctx.textAlign = 'center';
      ctx.fillText(naam, 77, y + 0.8);
    });

    // station en variabele
    ctx.fillStyle = '#333';
    ctx.font = `bold 6px ${FONT}`;
    ctx.fillText('De Bilt', 268, 22.5);
    ctx.fillText(opt.variabele, 268, 30.5);

    // eenheden links en rechts
    ctx.fillStyle = TEKST_KLEUR;
    ctx.font = `bold 12px ${FONT}`;
    gedraaid(ctx, opt.eenheid, 14.5, 76);
    gedraaid(ctx, opt.eenheid, 319, 76);
    ctx.fillText('Dag', 166, 151.5);

    // uur onder de dagnamen
    ctx.font = `bold 4.5px ${FONT}`;
    uren.filter(u => u % 24 === 0).forEach(u => {
      ctx.fillText('12', xas.getPixelForValue(u), 153.5);
    });

    ctx.fillStyle = '#2020cc';
    ctx.font = `bold 6px ${FONT}`;
    ctx.textAlign = 'left';
    ctx.fillText('Bron: ECMWF/KNMI', 267, 155);
    ctx.restore();
  }
};

function yAs(positie, min, max, breedte) {
  return {
    type: 'linear',
    position: positie,
    min: min,
    max: max,
    ticks: {
      stepSize: 5,
      color: TEKST_KLEUR,
      padding: positie === 'left' ? 1 : 2,
      font: { family: FONT, size: 9, weight: 'bold' }
    },
    grid: { drawOnChartArea: false, color: AS_KLEUR, tickLength: positie === 'left' ? 2 : 3 },
    border: { color: AS_KLEUR, width: 1 },
    afterFit: s => { s.width = breedte; }
  };
}

function maakGrafiek(id, datasets, min, max, instellingen) {
  return new Chart(document.getElementById(id), {
    type: 'line',
    data: { datasets: datasets },
    options: {
      responsive: false,
      animation: false,
      devicePixelRatio: 1,
      layout: { padding: { top: 15, left: 0, right: 0, bottom: 0 } },
      elements: { point: { radius: 0 }, line: { tension: 0 } },
      plugins: {
        legend: { display: false },
        tooltip: { enabled: false },
        paneel: instellingen
      },
      scales: {
        x: {
          type: 'linear',
          min: 0,
          max: 240,
          ticks: {
            stepSize: 12,
            maxTicksLimit: 21,
            autoSkip: false,
            maxRotation: 0,
            padding: -1,
            color: TEKST_KLEUR,
            callback: v => (v % 24 === 0 ? dagNamen[v / 24] : '00'),
            font: c => ({
              family: FONT,
              weight: 'bold',
              size: c.tick && c.tick.value % 24 === 0 ? 8.5 : 5.5
            })
          },
          grid: { drawOnChartArea: false, color: AS_KLEUR, tickLength: 2 },
          border: { color: AS_KLEUR, width: 1 },
          afterFit: s => { s.height = 24; }
        },
        y: yAs('left', min, max, 34),
        y2: yAs('right', min, max, 38)
      }
    },
    plugins: [paneelPlugin]
  });
}

maakGrafiek('neerslag', maakDatasets(neerslagLeden, neerslagGem, neerslagControl, neerslagOper), 0, 20,
  { eenheid: 'mm', variabele: 'Neerslag', legenda: ['Ensgem', 'Control', 'Oper'] });
maakGrafiek('wind', maakDatasets(windLeden, windGem, windControl, windOper), 0, 20,
  { eenheid: 'm/s', variabele: '10m wind', legenda: ['Ensgem', 'Control', 'Oper'] });
maakGrafiek('temp', maakDatasets(tempLeden, tempGem, tempControl, tempOper), 5, 35,
  { eenheid: 'Celsius', variabele: 'T2m', legenda: ['Ensgem', 'Control', 'Oper', 'MOS TnTx'] });
</script>
</body>
</html>
